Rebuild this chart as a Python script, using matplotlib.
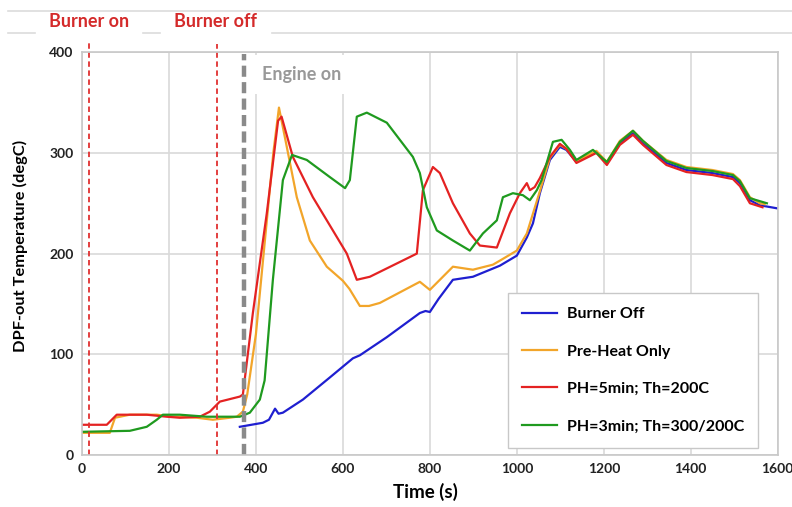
import matplotlib
matplotlib.use("Agg")
import matplotlib.pyplot as plt
from matplotlib.lines import Line2D

plt.rcParams['font.family'] = ['Lato', 'DejaVu Sans']

# Burner Off
blue_t = [363, 416, 430, 444, 452, 462, 508, 570, 623, 639, 701, 777, 790, 800, 820, 853, 899,
          961, 1000, 1023, 1037, 1053, 1076, 1099, 1114, 1137, 1160, 1183, 1207, 1237, 1267, 1290,
          1344, 1390, 1450, 1497, 1513, 1536, 1559, 1598]
blue_T = [28, 32, 35, 46, 41, 42, 55, 77, 96, 99, 117, 141, 143, 142, 155, 174, 177,
          188, 198, 216, 230, 260, 293, 306, 303, 291, 296, 301, 290, 310, 320, 310,
          290, 283, 280, 276, 270, 253, 248, 245]

# Pre-Heat Only
orange_t = [0, 64, 76, 110, 172, 209, 264, 301, 340, 356, 370, 380, 400, 420, 440, 453, 471, 494,
            524, 563, 600, 615, 639, 660, 685, 777, 800, 853, 899, 945, 961, 1000, 1023, 1053,
            1076, 1099, 1114, 1137, 1160, 1183, 1207, 1237, 1267, 1290, 1344, 1390, 1450, 1497,
            1513, 1536, 1559, 1570]
orange_T = [22, 22, 37, 40, 40, 38, 37, 35, 37, 38, 43, 60, 120, 210, 300, 345, 306, 256,
            213, 187, 173, 165, 148, 148, 151, 172, 164, 187, 184, 189, 193, 203, 220, 262,
            295, 308, 304, 292, 297, 302, 291, 312, 322, 312, 293, 286, 283, 279,
            273, 256, 250, 249]

# PH=5min; Th=200C
red_t = [0, 57, 80, 149, 195, 225, 271, 294, 317, 363, 370, 393, 425, 451, 459, 485, 531, 577,
         609, 632, 662, 770, 784, 807, 823, 853, 892, 915, 954, 984, 1007, 1023, 1030, 1041,
         1053, 1076, 1099, 1114, 1137, 1160, 1183, 1207, 1237, 1267, 1290, 1344, 1390, 1450,
         1497, 1513, 1536, 1565]
red_T = [30, 30, 40, 40, 38, 37, 38, 43, 53, 58, 60, 141, 240, 332, 336, 296, 256, 223,
         200, 174, 177, 200, 263, 286, 280, 250, 220, 208, 206, 240, 260, 270, 263, 266,
         275, 296, 309, 304, 290, 295, 300, 288, 308, 318, 308, 288, 281, 278,
         274, 267, 250, 246]

# PH=3min; Th=300/200C
green_t = [0, 110, 149, 172, 186, 225, 287, 340, 363, 386, 409, 420, 439, 462, 483, 517, 570,
           605, 616, 632, 655, 701, 761, 777, 793, 816, 853, 892, 922, 954, 968, 991, 1014,
           1030, 1046, 1057, 1083, 1103, 1122, 1137, 1175, 1207, 1237, 1267, 1290, 1344, 1390,
           1450, 1497, 1513, 1536, 1575]
green_T = [23, 24, 28, 35, 40, 40, 38, 38, 38, 42, 55, 74, 174, 273, 298, 293, 276,
           265, 273, 336, 340, 330, 296, 280, 246, 223, 213, 203, 220, 233, 256, 260, 258,
           253, 263, 273, 311, 313, 303, 293, 303, 291, 311, 322, 312, 292, 285,
           282, 278, 272, 255, 250]

burner_on_t = 16
burner_off_t = 310
engine_on_t = 372

fig = plt.figure(figsize=(7.92, 5.07), dpi=100)
ax = fig.add_axes([0.1035, 0.1026, 0.8785, 0.7944])

ax.plot(blue_t, blue_T, color='#1f1fd0', lw=1.6, label='Burner Off')
ax.plot(orange_t, orange_T, color='#f2a52a', lw=1.6, label='Pre-Heat Only')
ax.plot(red_t, red_T, color='#e42222', lw=1.6, label='PH=5min; Th=200C')
ax.plot(green_t, green_T, color='#1f9a1f', lw=1.6, label='PH=3min; Th=300/200C')

ax.set_xlim(0, 1600)
ax.set_ylim(0, 400)
ax.set_xticks(range(0, 1601, 200))
ax.set_yticks(range(0, 401, 100))
ax.grid(True, color='#d9d9d9', lw=1.2)
ax.set_axisbelow(True)
for s in ax.spines.values():
    s.set_color('#c8c8c8')
    s.set_linewidth(1.2)
ax.tick_params(length=0, labelsize=10, pad=6)
for lab in ax.get_xticklabels() + ax.get_yticklabels():
    lab.set_fontweight('bold')
    lab.set_color('#222222')

ax.set_xlabel('Time (s)', fontsize=13.5, fontweight='bold')
ax.xaxis.set_label_coords(0.494, -0.07)
ax.set_ylabel('DPF-out Temperature (degC)', fontsize=11.8, fontweight='bold')
ax.yaxis.set_label_coords(-0.078, 0.52)

# burner markers
ax.plot([burner_on_t, burner_on_t], [0, 412], color='#e03030', lw=1.3, ls=(0, (3, 2)), clip_on=False)
ax.plot([burner_off_t, burner_off_t], [0, 408], color='#e03030', lw=1.3, ls=(0, (3, 2)), clip_on=False)
ax.plot([engine_on_t, engine_on_t], [0, 398], color='#8a8a8a', lw=3.2, ls=(0, (2.5, 1.2)))
ax.text(415, 378, 'Engine on', fontsize=13, fontweight='bold', color='#999999',
        va='center', ha='left', bbox=dict(facecolor='white', edgecolor='none', pad=8))

leg = ax.legend(loc='lower right', bbox_to_anchor=(0.972, 0.018),
                prop={'weight': 'bold', 'size': 11.5}, labelspacing=1.45,
                handlelength=2.2, handletextpad=0.6, borderpad=0.9, borderaxespad=0,
                fancybox=False, framealpha=1, edgecolor='#c8c8c8')
leg.get_frame().set_linewidth(1.0)

# top header band
fig.add_artist(Line2D([0.01, 1.0], [0.978, 0.978], transform=fig.transFigure, color='#dcdcdc', lw=1.2))
for x0, x1 in [(0.01, 0.044), (0.18, 0.202), (0.343, 1.0)]:
    fig.add_artist(Line2D([x0, x1], [0.935, 0.935], transform=fig.transFigure, color='#dcdcdc', lw=1.2))
fig.text(0.1125, 0.957, 'Burner on', color='#d42a2a', fontsize=13, fontweight='bold', ha='center', va='center')
fig.text(0.2715, 0.957, 'Burner off', color='#d42a2a', fontsize=13, fontweight='bold', ha='center', va='center')

fig.savefig('out.png', dpi=100)
